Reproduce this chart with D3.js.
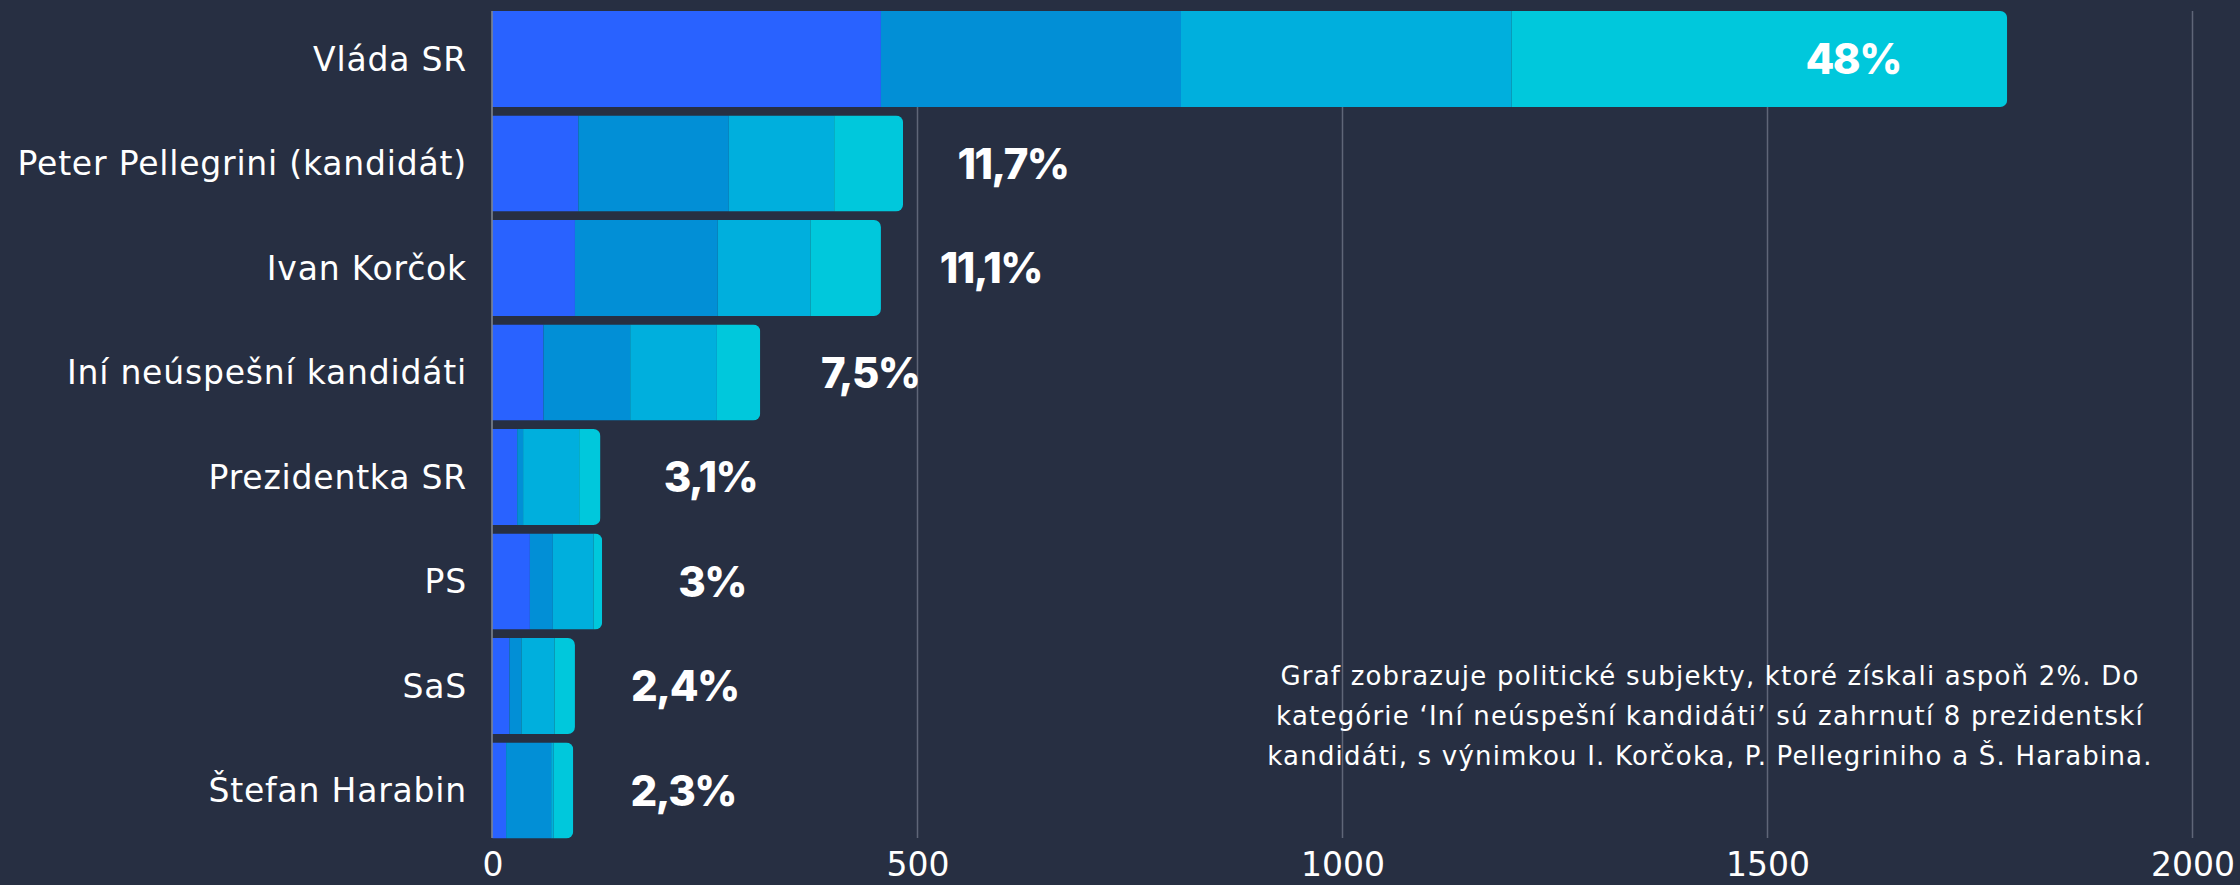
<!DOCTYPE html>
<html>
<head>
<meta charset="utf-8">
<script src="https://cdn.jsdelivr.net/npm/d3@7"></script>
<style>
  html, body { margin: 0; padding: 0; background: #272f42; }
  svg { display: block; }
</style>
</head>
<body>
<svg id="chart" width="2240" height="885"></svg>
<script>
// ---------- data ----------
const categories = [
  "Vláda SR",
  "Peter Pellegrini (kandidát)",
  "Ivan Korčok",
  "Iní neúspešní kandidáti",
  "Prezidentka SR",
  "PS",
  "SaS",
  "Štefan Harabin"
];
const series1 = [457, 101, 97, 60, 29, 44, 20, 16];
const series2 = [353, 177, 168, 102, 7, 27, 14, 53];
const series3 = [389, 124, 109, 102, 66, 48, 39, 3];
const series4 = [583, 81, 83, 51, 25, 10, 24, 23];
const shareLabels = ["48%", "11,7%", "11,1%", "7,5%", "3,1%", "3%", "2,4%", "2,3%"];
const xTicks = [0, 500, 1000, 1500, 2000];
const seriesColors = ["#2962ff", "#028fd6", "#00afdd", "#00c8dc"];
const noteLines = [
  "Graf zobrazuje politické subjekty, ktoré získali aspoň 2%. Do",
  "kategórie ‘Iní neúspešní kandidáti’ sú zahrnutí 8 prezidentskí",
  "kandidáti, s výnimkou I. Korčoka, P. Pellegriniho a Š. Harabina."
];

// ---------- build ----------
const seriesKeys = ["s1", "s2", "s3", "s4"];
const rows = categories.map((c, i) => ({
  cat: c, s1: series1[i], s2: series2[i], s3: series3[i], s4: series4[i], label: shareLabels[i]
}));
rows.forEach(r => r.total = r.s1 + r.s2 + r.s3 + r.s4);

const svg = d3.select("#chart");
const x = d3.scaleLinear().domain([0, 2000]).range([492.5, 2192.5]);
const y = d3.scaleBand().domain(categories).range([11, 838.5]).paddingInner(0.081).paddingOuter(0);

const stack = d3.stack().keys(seriesKeys)(rows);
const color = d3.scaleOrdinal().domain(seriesKeys).range(seriesColors);

// gridlines
svg.append("g").selectAll("line")
  .data(xTicks.slice(1))
  .join("line")
  .attr("x1", d => x(d)).attr("x2", d => x(d))
  .attr("y1", 11).attr("y2", 838)
  .attr("stroke", "#5f6678").attr("stroke-width", 1.5);

// clip paths for rounded right ends
const defs = svg.append("defs");
rows.forEach((r, i) => {
  defs.append("clipPath").attr("id", "clip" + i)
    .append("rect")
    .attr("x", x(0) - 20).attr("y", y(r.cat))
    .attr("width", x(r.total) - x(0) + 20).attr("height", y.bandwidth())
    .attr("rx", 7).attr("ry", 7);
});

const barG = svg.append("g");
rows.forEach((r, i) => {
  const g = barG.append("g").attr("clip-path", `url(#clip${i})`);
  stack.forEach(layer => {
    const d = layer[i];
    g.append("rect")
      .attr("x", x(d[0]))
      .attr("y", y(r.cat))
      .attr("width", Math.max(0, x(d[1]) - x(d[0])))
      .attr("height", y.bandwidth())
      .attr("fill", color(layer.key));
  });
});

// y axis line
svg.append("line")
  .attr("x1", x(0) - 0.5).attr("x2", x(0) - 0.5)
  .attr("y1", 11).attr("y2", 838)
  .attr("stroke", "#9aa0aa").attr("stroke-width", 1.2);

// category labels
svg.append("g").selectAll("text")
  .data(rows)
  .join("text")
  .attr("x", 467)
  .attr("y", d => y(d.cat) + y.bandwidth() / 2)
  .attr("dy", "0.36em")
  .attr("text-anchor", "end")
  .attr("fill", "#ffffff")
  .attr("font-family", "'DejaVu Sans', sans-serif")
  .attr("font-size", 33)
  .attr("letter-spacing", 0.8)
  .text(d => d.cat);

// share labels
svg.append("g").selectAll("text")
  .data(rows)
  .join("text")
  .attr("x", d => {
    const end = x(d.total);
    return end + 200 > 2192 ? end - 154 : end + 110;
  })
  .attr("y", d => y(d.cat) + y.bandwidth() / 2)
  .attr("dy", "0.36em")
  .attr("text-anchor", "middle")
  .attr("fill", "#ffffff")
  .attr("font-family", "Inter, sans-serif")
  .attr("font-weight", 800)
  .attr("font-size", 42)
  .attr("letter-spacing", -1.5)
  .text(d => d.label);

// x axis tick labels
const xAxis = d3.axisBottom(x).tickValues(xTicks).tickFormat(d3.format("d")).tickSize(0).tickPadding(0);
const axG = svg.append("g").attr("transform", "translate(0,853)").call(xAxis);
axG.select(".domain").remove();
axG.selectAll("text")
  .attr("fill", "#ffffff")
  .attr("font-family", "'DejaVu Sans', sans-serif")
  .attr("font-size", 33)
  .attr("dy", "0.71em");

// footnote
svg.append("g").selectAll("text")
  .data(noteLines)
  .join("text")
  .attr("x", 1710)
  .attr("y", (d, i) => 685 + i * 40)
  .attr("text-anchor", "middle")
  .attr("fill", "#ffffff")
  .attr("font-family", "'DejaVu Sans', sans-serif")
  .attr("font-size", 26)
  .attr("letter-spacing", 1.2)
  .text(d => d);
</script>
</body>
</html>
